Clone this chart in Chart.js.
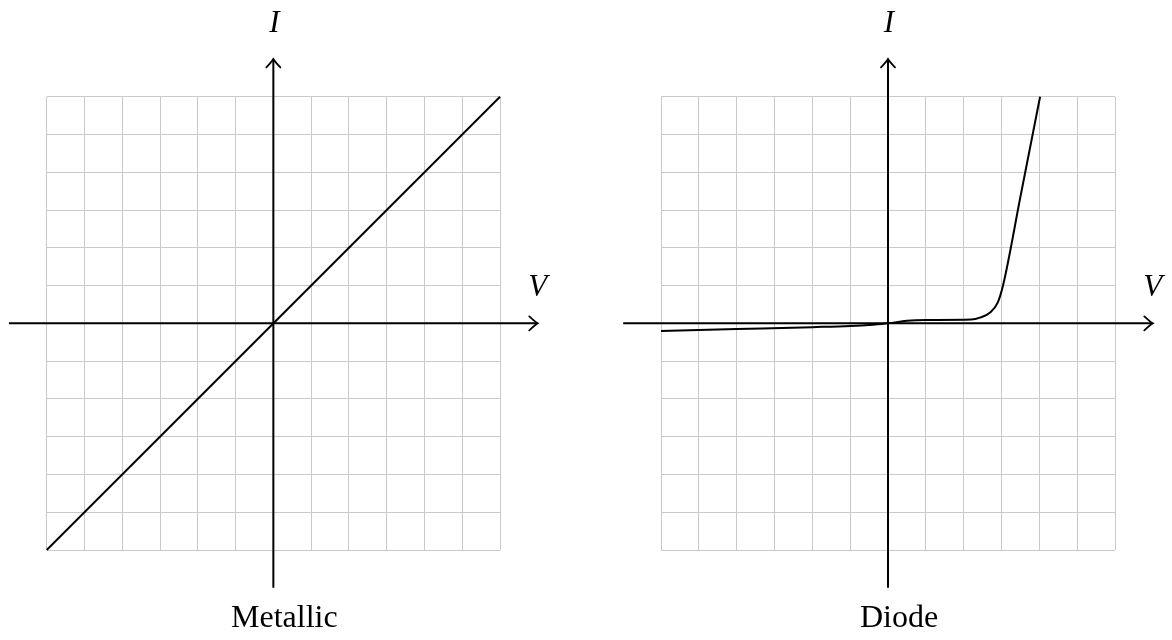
<!DOCTYPE html>
<html>
<head>
<meta charset="utf-8">
<script src="https://cdn.jsdelivr.net/npm/chart.js@4/dist/chart.umd.min.js"></script>
<style>
  html, body { margin: 0; padding: 0; background: #fff; overflow: hidden; }
  .panel { position: absolute; top: 0; width: 586px; height: 640px; }
</style>
</head>
<body>
<div class="panel" style="left:0"><canvas id="metallic" width="586" height="640"></canvas></div>
<div class="panel" style="left:586px"><canvas id="diode" width="586" height="640"></canvas></div>
<script>
// grid covers -6..6, the arrowed axes run a unit further
const gridMin = -6;
const gridMax = 6;
const axisEnd = 7;

// ohmic conductor: straight line through the origin
const metallicV = [-6, 6];
const metallicI = [-6, 6];

// diode: tiny reverse leakage, flat forward region, then steep conduction
const diodeV = [-6, -4, -2, -1, -0.4, 0, 0.5, 1, 2.2, 2.43, 2.7, 2.9, 3.04, 3.5, 3.8, 4.02];
const diodeI = [-0.2, -0.15, -0.1, -0.07, -0.035, 0, 0.07, 0.09, 0.1, 0.15, 0.29, 0.55, 1.0, 3.35, 4.88, 6.0];

const serif = '"Liberation Serif", "DejaVu Serif", serif';

function toPoints(xs, ys) {
  return xs.map((x, i) => ({ x, y: ys[i] }));
}

function arrowHead(ctx, x, y, angle) {
  ctx.save();
  ctx.translate(x, y);
  ctx.rotate(angle);
  ctx.beginPath();
  ctx.moveTo(-8.5, -7);
  ctx.quadraticCurveTo(-2.5, -1.5, 0, 0);
  ctx.quadraticCurveTo(-2.5, 1.5, -8.5, 7);
  ctx.stroke();
  ctx.restore();
}

// black V/I axes with arrows, axis letters and the panel caption
const axesPlugin = {
  id: 'ivAxes',
  beforeDatasetsDraw(chart, args, opts) {
    const { ctx, scales: { x, y } } = chart;
    const x0 = x.getPixelForValue(0);
    const y0 = y.getPixelForValue(0);
    const left = x.getPixelForValue(-axisEnd);
    const right = x.getPixelForValue(axisEnd);
    const top = y.getPixelForValue(axisEnd);
    const bottom = y.getPixelForValue(-axisEnd);

    ctx.save();
    ctx.strokeStyle = '#000';
    ctx.lineWidth = 2;
    ctx.lineCap = 'butt';
    ctx.beginPath();
    ctx.moveTo(left, y0);
    ctx.lineTo(right - 1, y0);
    ctx.moveTo(x0, bottom);
    ctx.lineTo(x0, top + 1);
    ctx.stroke();
    ctx.lineWidth = 1.8;
    ctx.lineCap = 'round';
    arrowHead(ctx, right, y0, 0);
    arrowHead(ctx, x0, top, -Math.PI / 2);

    ctx.fillStyle = '#000';
    ctx.textAlign = 'center';
    ctx.textBaseline = 'alphabetic';
    ctx.font = 'italic 31px ' + serif;
    ctx.fillText('I', x0 + 1, top - 27);
    ctx.fillText('V', right, y0 - 27);
    ctx.font = '32px ' + serif;
    ctx.fillText(opts.caption, x0 + 11, bottom + 39);
    ctx.restore();
  }
};

function ivChart(id, xs, ys, caption, padding, curved) {
  const zeroSize = s => s.axis === 'x' ? (s.height = 0) : (s.width = 0);
  const scale = {
    type: 'linear',
    min: gridMin,
    max: gridMax,
    ticks: { stepSize: 1, display: false },
    grid: { color: '#c9c9c9', lineWidth: 1, drawTicks: false },
    border: { display: false },
    afterFit: zeroSize
  };
  return new Chart(document.getElementById(id), {
    type: 'scatter',
    data: {
      datasets: [{
        data: toPoints(xs, ys),
        showLine: true,
        borderColor: '#000',
        borderWidth: 2,
        pointRadius: 0,
        fill: false,
        cubicInterpolationMode: curved ? 'monotone' : 'default',
        tension: 0,
        clip: false
      }]
    },
    options: {
      responsive: false,
      animation: false,
      devicePixelRatio: 1,
      layout: { padding },
      scales: { x: { ...scale }, y: { ...scale } },
      plugins: {
        legend: { display: false },
        tooltip: { enabled: false },
        ivAxes: { caption }
      }
    },
    plugins: [axesPlugin]
  });
}

ivChart('metallic', metallicV, metallicI, 'Metallic',
  { left: 46.7, right: 86, top: 96.7, bottom: 90 }, false);
ivChart('diode', diodeV, diodeI, 'Diode',
  { left: 75, right: 57, top: 96.7, bottom: 90 }, true);
</script>
</body>
</html>
